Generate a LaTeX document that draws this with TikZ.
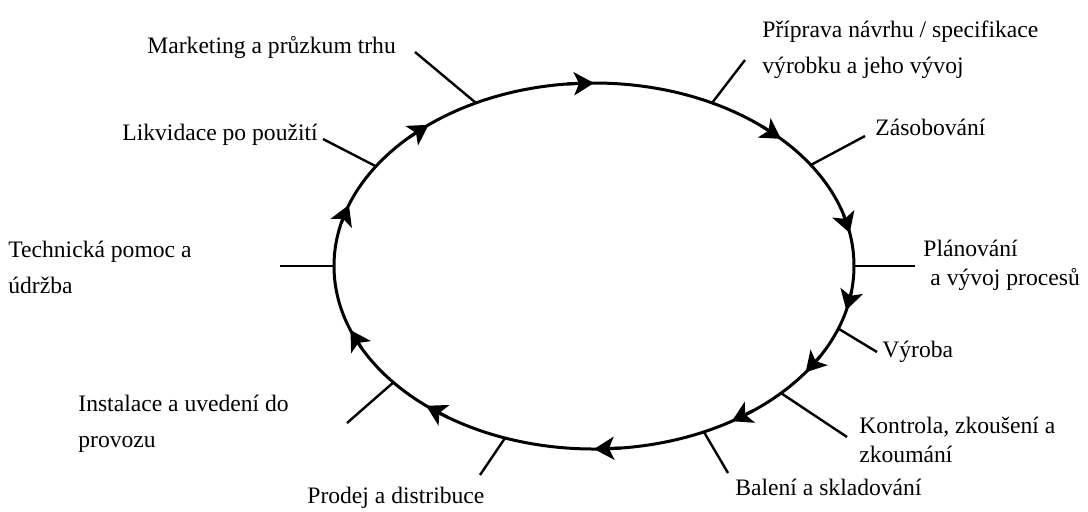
\documentclass[tikz,border=0pt]{standalone}
\usepackage{fontspec}
\setmainfont{Liberation Serif}
\usetikzlibrary{arrows.meta,positioning}

\begin{document}
\begin{tikzpicture}[
  x=0.5pt, y=-0.5pt,
  cyc/.style={line width=1.5pt},
  tick/.style={line width=1.2pt},
  flow/.style={line width=1.5pt,-{Stealth[length=10pt,width=11.5pt,inset=2.5pt]}},
  lbl/.style={inner sep=0pt,anchor=base west,align=left,font=\fontsize{11.8}{18}\selectfont},
  lbltight/.style={lbl,font=\fontsize{11.8}{14.5}\selectfont}
]
\useasboundingbox (0,0) rectangle (1088,511);

% the product life cycle
\draw[cyc] (594,266) ellipse [x radius=260, y radius=183];
\foreach \t in {90,44,10.4,346,324.5,302,270,229.8,200.5,160.5,129.5}
  \draw[flow] ({594+260*cos(\t+6)},{266-183*sin(\t+6)}) -- ({594+260*cos(\t)},{266-183*sin(\t)});

% points on the cycle
\foreach \n/\t in {mk/117,likv/147,tech/180,inst/219.5,prod/250,bal/295,kontr/316,vyr/340,plan/0,zas/33.5,prip/63}
  \coordinate (e-\n) at ({594+260*cos(\t)},{266-183*sin(\t)});

% outer ends of the ticks
\coordinate (o-mk) at (415,52);
\coordinate (o-likv) at (323,139);
\coordinate (o-tech) at (280,266);
\coordinate (o-inst) at (347,423);
\coordinate (o-prod) at (480,475);
\coordinate (o-bal) at (728,473);
\coordinate (o-kontr) at (847,437);
\coordinate (o-vyr) at (877,352);
\coordinate (o-plan) at (915,266);
\coordinate (o-zas) at (865,136);
\coordinate (o-prip) at (745,60);

\foreach \n in {mk,likv,tech,inst,prod,bal,kontr,vyr,plan,zas,prip}
  \draw[tick] (o-\n) -- (e-\n);

% labels (multi-line ones sit on their last baseline)
\node[lbl] (mk) at (147,53) {Marketing a průzkum trhu};
\node[lbl] (likv) at (122,140) {Likvidace po použití};
\node[lbl] (tech) at (8,293) {Technická pomoc a\\údržba};
\node[lbl] (inst) at (78,447) {Instalace a uvedení do\\provozu};
\node[lbl] (prod) at (307,503) {Prodej a distribuce};
\node[lbl] (bal) at (735,495) {Balení a skladování};
\node[lbltight] (kontr) at (859,462) {Kontrola, zkoušení a\\zkoumání};
\node[lbl] (vyr) at (882,357) {Výroba};
\node[lbltight] (plan) at (923,285) {Plánování\\\hspace*{3.5pt}a vývoj procesů};
\node[lbl] (zas) at (875,135) {Zásobování};
\node[lbl] (prip) at (762,73) {Příprava návrhu / specifikace\\výrobku a jeho vývoj};
\end{tikzpicture}
\end{document}
